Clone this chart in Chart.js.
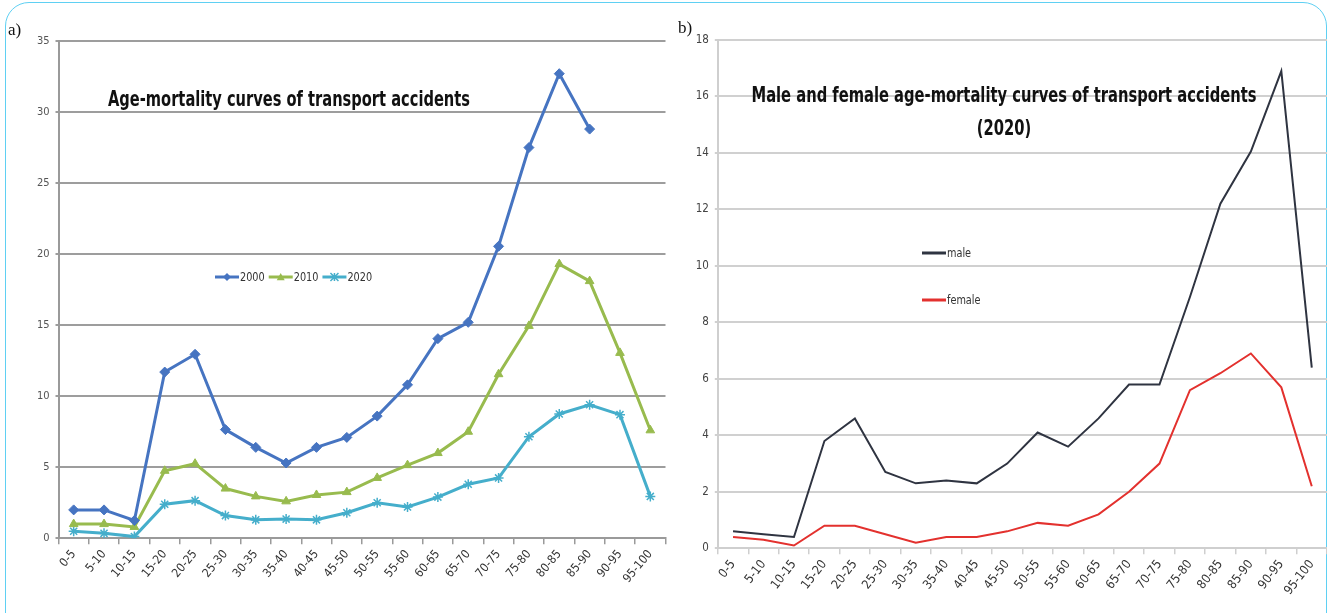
<!DOCTYPE html>
<html>
<head>
<meta charset="utf-8">
<title>Age-mortality curves of transport accidents</title>
<script src="https://cdn.jsdelivr.net/npm/chart.js"></script>
<style>
  body { margin: 0; background: #fff; width: 1327px; height: 613px; overflow: hidden; position: relative; }
  .frame { position: absolute; left: 5px; top: 2px; width: 1320px; height: 700px; border: 1.5px solid #5fd0f3; border-radius: 24px; }
  .panel { position: absolute; top: 0; height: 613px; }
  .tag { position: absolute; font-family: 'Liberation Serif', serif; font-size: 17px; color: #111; }
</style>
</head>
<body>
<div class="frame"></div>
<div class="panel" style="left:0;width:672px"><canvas id="chartA"></canvas></div>
<div class="panel" style="left:672px;width:655px"><canvas id="chartB"></canvas></div>
<div class="tag" style="left:8px;top:20px">a)</div>
<div class="tag" style="left:678px;top:18px">b)</div>
<script>
const ageGroups = ['0-5','5-10','10-15','15-20','20-25','25-30','30-35','35-40','40-45','45-50',
  '50-55','55-60','60-65','65-70','70-75','75-80','80-85','85-90','90-95','95-100'];

const rate2000 = [2.0, 2.0, 1.25, 11.7, 12.95, 7.65, 6.4, 5.3, 6.4, 7.1, 8.6, 10.8, 14.05, 15.2, 20.55, 27.5, 32.7, 28.8, null, null];
const rate2010 = [1.0, 1.0, 0.8, 4.75, 5.25, 3.5, 2.95, 2.6, 3.05, 3.25, 4.25, 5.15, 6.0, 7.5, 11.55, 14.95, 19.3, 18.1, 13.05, 7.6];
const rate2020 = [0.5, 0.35, 0.12, 2.4, 2.65, 1.6, 1.3, 1.35, 1.3, 1.8, 2.5, 2.2, 2.9, 3.8, 4.25, 7.15, 8.75, 9.4, 8.7, 2.95];

const male2020   = [0.6, 0.5, 0.4, 3.8, 4.6, 2.7, 2.3, 2.4, 2.3, 3.0, 4.1, 3.6, 4.6, 5.8, 5.8, 8.9, 12.2, 14.05, 16.9, 6.4];
const female2020 = [0.4, 0.3, 0.1, 0.8, 0.8, 0.5, 0.2, 0.4, 0.4, 0.6, 0.9, 0.8, 1.2, 2.0, 3.0, 5.6, 6.2, 6.9, 5.7, 2.2];

const titleA = ['Age-mortality curves of transport accidents'];
const titleB = ['Male and female age-mortality curves of transport accidents', '(2020)'];

const narrow = "'Liberation Sans Narrow', 'DejaVu Sans Condensed', 'Arial Narrow', sans-serif";

function drawMarker(ctx, style, x, y, r, color) {
  ctx.save();
  ctx.fillStyle = color;
  ctx.strokeStyle = color;
  ctx.lineWidth = 1.5;
  ctx.beginPath();
  if (style === 'rectRot') {
    ctx.moveTo(x, y - r); ctx.lineTo(x + r, y); ctx.lineTo(x, y + r); ctx.lineTo(x - r, y);
    ctx.closePath(); ctx.fill();
  } else if (style === 'triangle') {
    ctx.moveTo(x, y - r); ctx.lineTo(x + r, y + r * 0.8); ctx.lineTo(x - r, y + r * 0.8);
    ctx.closePath(); ctx.fill();
  } else if (style === 'star') {
    ctx.moveTo(x - r, y - r); ctx.lineTo(x + r, y + r);
    ctx.moveTo(x + r, y - r); ctx.lineTo(x - r, y + r);
    ctx.moveTo(x, y - r); ctx.lineTo(x, y + r);
    ctx.stroke();
  }
  ctx.restore();
}

// title and legend drawn inside the plot area, squeezed to look like a condensed face
const overlay = {
  id: 'overlay',
  afterDraw(chart, args, opts) {
    const ctx = chart.ctx;
    ctx.save();
    ctx.fillStyle = '#111';
    ctx.font = 'bold ' + opts.titleSize + 'px ' + narrow;
    ctx.textBaseline = 'middle';
    const sx = opts.titleWidth / ctx.measureText(opts.title[0]).width;
    opts.title.forEach((line, i) => {
      ctx.save();
      ctx.translate(opts.titleX, opts.titleY + i * opts.titleGap);
      ctx.scale(sx, 1);
      ctx.textAlign = opts.titleAlign;
      ctx.fillText(line, 0, 0);
      ctx.restore();
    });
    ctx.font = '12px ' + narrow;
    ctx.textAlign = 'left';
    const lx = 0.9;
    let x = opts.legendX, y = opts.legendY;
    chart.data.datasets.forEach(ds => {
      ctx.strokeStyle = ds.borderColor;
      ctx.lineWidth = 3;
      ctx.beginPath(); ctx.moveTo(x, y); ctx.lineTo(x + 24, y); ctx.stroke();
      if (ds.pointStyle && ds.pointRadius > 0) drawMarker(ctx, ds.pointStyle, x + 12, y, 4, ds.borderColor);
      ctx.fillStyle = '#333';
      ctx.save();
      ctx.translate(x + 25, y + 1);
      ctx.scale(lx, 1);
      ctx.fillText(ds.label, 0, 0);
      ctx.restore();
      const w = ctx.measureText(ds.label).width * lx;
      if (opts.legendVertical) { y += opts.legendStep; } else { x += 25 + w + 4; }
    });
    ctx.restore();
  }
};

function fixedAxes(yWidth, xHeight) {
  return {
    x: { afterFit: s => { s.height = xHeight; } },
    y: { afterFit: s => { s.width = yWidth; } }
  };
}

new Chart(document.getElementById('chartA'), {
  type: 'line',
  data: {
    labels: ageGroups,
    datasets: [
      { label: '2000', data: rate2000, borderColor: '#4674c1', backgroundColor: '#4674c1', borderWidth: 3,
        pointStyle: 'rectRot', pointRadius: 5, pointBorderWidth: 1, tension: 0 },
      { label: '2010', data: rate2010, borderColor: '#98bb4e', backgroundColor: '#98bb4e', borderWidth: 3,
        pointStyle: 'triangle', pointRadius: 5, pointBorderWidth: 1, tension: 0 },
      { label: '2020', data: rate2020, borderColor: '#45aecb', backgroundColor: '#45aecb', borderWidth: 3,
        pointStyle: 'star', pointRadius: 5, pointBorderWidth: 1.5, tension: 0 }
    ]
  },
  options: {
    responsive: true, maintainAspectRatio: false, animation: false,
    layout: { padding: { top: 41, left: 0, right: 0, bottom: 0 } },
    plugins: {
      legend: { display: false }, tooltip: { enabled: false },
      overlay: { title: titleA, titleX: 108, titleY: 100, titleSize: 22, titleWidth: 362, titleAlign: 'left', titleGap: 32,
        legendX: 215, legendY: 277, legendVertical: false, legendStep: 0 }
    },
    scales: {
      x: {
        offset: true,
        afterFit: fixedAxes(58.5, 74.7).x.afterFit,
        grid: { offset: true, drawOnChartArea: false, drawTicks: true, tickLength: 6, color: '#9a9a9a', lineWidth: 1.5 },
        border: { color: '#9a9a9a', width: 2 },
        ticks: { autoSkip: false, minRotation: 50, maxRotation: 50, padding: 3, color: '#333',
          font: { family: narrow, size: 12 } }
      },
      y: {
        min: 0, max: 35,
        afterFit: fixedAxes(58.5, 74.7).y.afterFit,
        grid: { color: '#9d9d9d', lineWidth: 2, drawTicks: true, tickLength: 3 },
        border: { color: '#9a9a9a', width: 2 },
        ticks: { stepSize: 5, padding: 6, color: '#555', font: { family: narrow, size: 11 } }
      }
    }
  },
  plugins: [overlay]
});

new Chart(document.getElementById('chartB'), {
  type: 'line',
  data: {
    labels: ageGroups,
    datasets: [
      { label: 'male', data: male2020, borderColor: '#2f3441', borderWidth: 2, pointRadius: 0, tension: 0 },
      { label: 'female', data: female2020, borderColor: '#e3312e', borderWidth: 2, pointRadius: 0, tension: 0 }
    ]
  },
  options: {
    responsive: true, maintainAspectRatio: false, animation: false,
    layout: { padding: { top: 40, left: 0, right: 0, bottom: 0 } },
    plugins: {
      legend: { display: false }, tooltip: { enabled: false },
      overlay: { title: titleB, titleX: 332, titleY: 96, titleSize: 22, titleWidth: 505, titleAlign: 'center', titleGap: 33,
        legendX: 250, legendY: 253, legendVertical: true, legendStep: 47 }
    },
    scales: {
      x: {
        offset: true,
        afterFit: fixedAxes(45.8, 64.7).x.afterFit,
        grid: { offset: true, drawOnChartArea: false, drawTicks: true, tickLength: 6, color: '#cfcfcf', lineWidth: 1.5 },
        border: { color: '#cfcfcf', width: 2 },
        ticks: { autoSkip: false, minRotation: 52, maxRotation: 52, padding: 3, color: '#333',
          font: { family: narrow, size: 12.5 } }
      },
      y: {
        min: 0, max: 18,
        afterFit: fixedAxes(45.8, 64.7).y.afterFit,
        grid: { color: '#d0d0d0', lineWidth: 2, drawTicks: true, tickLength: 3 },
        border: { color: '#cfcfcf', width: 2 },
        ticks: { stepSize: 2, padding: 6, color: '#444', font: { family: narrow, size: 11.5 } }
      }
    }
  },
  plugins: [overlay]
});
</script>
</body>
</html>
